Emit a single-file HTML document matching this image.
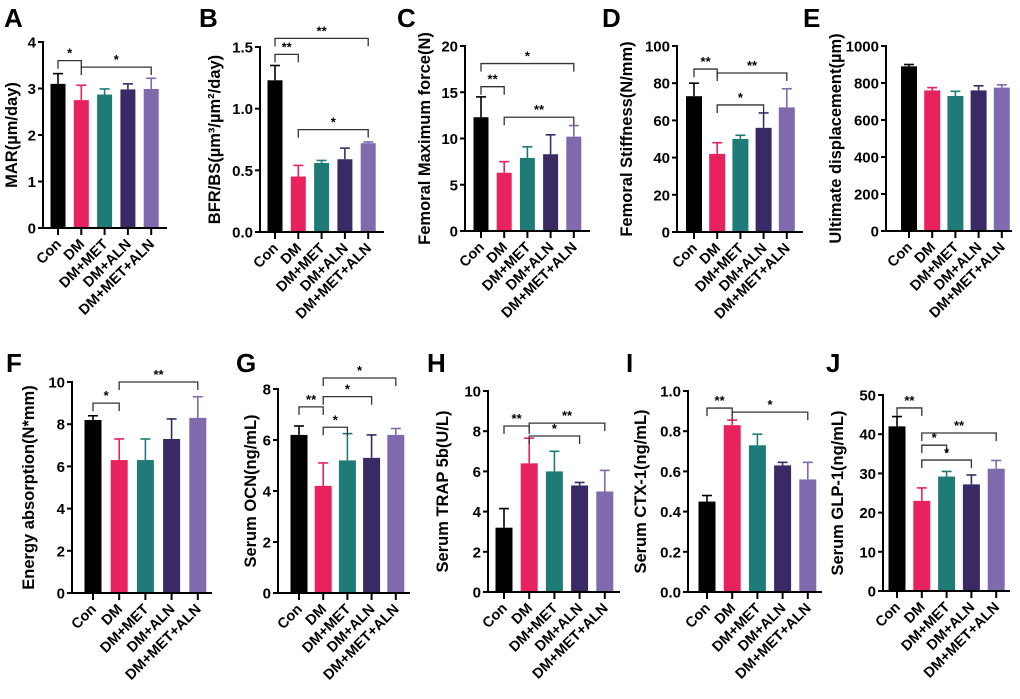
<!DOCTYPE html>
<html><head><meta charset="utf-8"><style>
html,body{margin:0;padding:0;background:#fff;}
svg{display:block;font-family:"Liberation Sans",Arial,sans-serif;font-weight:bold;}
</style></head><body>
<svg id="fig" width="1020" height="699" viewBox="0 0 1020 699" xmlns="http://www.w3.org/2000/svg"></svg>
<script>
const categories = ["Con","DM","DM+MET","DM+ALN","DM+MET+ALN"];
const colors = ["#000000","#e8215f","#1e7b78","#392a66","#806aae"];
const marVals = [3.1,2.75,2.87,2.98,2.99];
const marErr = [3.32,3.07,2.99,3.1,3.22];
const bfrVals = [1.23,0.45,0.56,0.59,0.72];
const bfrErr = [1.35,0.54,0.58,0.68,0.73];
const forceVals = [12.3,6.3,7.9,8.3,10.2];
const forceErr = [14.5,7.5,9.1,10.4,11.4];
const stiffVals = [73,42,50,56,67];
const stiffErr = [80,48,52,64,77];
const dispVals = [890,760,730,760,775];
const dispErr = [900,775,755,785,790];
const energyVals = [8.2,6.3,6.3,7.3,8.3];
const energyErr = [8.4,7.3,7.3,8.25,9.3];
const ocnVals = [6.2,4.2,5.2,5.3,6.2];
const ocnErr = [6.55,5.1,6.25,6.2,6.45];
const trapVals = [3.2,6.4,6.0,5.3,5.0];
const trapErr = [4.15,7.65,7.0,5.45,6.05];
const ctxVals = [0.45,0.83,0.73,0.63,0.56];
const ctxErr = [0.48,0.855,0.785,0.645,0.645];
const glpVals = [42,23,29.2,27.2,31.2];
const glpErr = [44.5,26.3,30.5,29.6,33.3];
const marTicks = ["0","1","2","3","4"];
const bfrTicks = ["0.0","0.5","1.0","1.5"];
const forceTicks = ["0","5","10","15","20"];
const stiffTicks = ["0","20","40","60","80","100"];
const dispTicks = ["0","200","400","600","800","1000"];
const energyTicks = ["0","2","4","6","8","10"];
const ocnTicks = ["0","2","4","6","8"];
const trapTicks = ["0","2","4","6","8","10"];
const ctxTicks = ["0.0","0.2","0.4","0.6","0.8","1.0"];
const glpTicks = ["0","10","20","30","40","50"];
const marSig = [[0,1,3.6,"*"],[1,4,3.46,"*"]];
const bfrSig = [[0,4,1.57,"**"],[0,1,1.44,"**"],[1,4,0.83,"*"]];
const forceSig = [[0,4,18.1,"*"],[0,1,15.6,"**"],[1,4,12.3,"**"]];
const stiffSig = [[0,1,87.6,"**"],[1,4,85.5,"**"],[1,3,68.3,"*"]];
const dispSig = [];
const energySig = [[0,1,9.0,"*"],[1,4,10.0,"**"]];
const ocnSig = [[0,1,7.3,"**"],[1,4,8.43,"*"],[1,3,7.7,"*"],[1,2,6.5,"*"]];
const trapSig = [[0,1,8.26,"**"],[1,4,8.4,"**"],[1,3,7.76,"*"]];
const ctxSig = [[0,1,0.915,"**"],[1,4,0.895,"*"]];
const glpSig = [[0,1,46.7,"**"],[1,4,40.3,"**"],[1,2,37.2,"*"],[1,3,33.4,"*"]];

const panels = [
 {id:"a",letter:"A",lx:4,ly:27,ax:43,x0:58,dx:23.3,bw:15,yTop:42,yBot:228,max:4,ticks:marTicks,vals:marVals,err:marErr,sig:marSig,title:"MAR(µm/day)",tx:12,xEnd:167},
 {id:"b",letter:"B",lx:199,ly:27,ax:260,x0:275,dx:23.3,bw:15,yTop:47,yBot:232,max:1.5,ticks:bfrTicks,vals:bfrVals,err:bfrErr,sig:bfrSig,title:"BFR/BS(µm³/µm²/day)",tx:215,xEnd:384},
 {id:"c",letter:"C",lx:397,ly:27,ax:465,x0:481,dx:23.2,bw:15,yTop:46,yBot:231,max:20,ticks:forceTicks,vals:forceVals,err:forceErr,sig:forceSig,title:"Femoral Maximum force(N)",tx:425,xEnd:590},
 {id:"d",letter:"D",lx:602,ly:27,ax:677,x0:694,dx:23.2,bw:16,yTop:46,yBot:232,max:100,ticks:stiffTicks,vals:stiffVals,err:stiffErr,sig:stiffSig,title:"Femoral Stiffness(N/mm)",tx:627,xEnd:803},
 {id:"e",letter:"E",lx:803,ly:27,ax:886,x0:909,dx:23.2,bw:16,yTop:46,yBot:231,max:1000,ticks:dispTicks,vals:dispVals,err:dispErr,sig:dispSig,title:"Ultimate displacement(µm)",tx:836,xEnd:1012},
 {id:"f",letter:"F",lx:6,ly:372,ax:72,x0:93,dx:26.2,bw:17,yTop:382,yBot:593,max:10,ticks:energyTicks,vals:energyVals,err:energyErr,sig:energySig,title:"Energy absorption(N*mm)",tx:29,xEnd:212},
 {id:"g",letter:"G",lx:236,ly:372,ax:278,x0:299,dx:24.2,bw:17,yTop:389,yBot:593,max:8,ticks:ocnTicks,vals:ocnVals,err:ocnErr,sig:ocnSig,title:"Serum OCN(ng/mL)",tx:251,xEnd:410},
 {id:"h",letter:"H",lx:427,ly:372,ax:488,x0:504,dx:25.2,bw:17,yTop:391,yBot:592,max:10,ticks:trapTicks,vals:trapVals,err:trapErr,sig:trapSig,title:"Serum TRAP 5b(U/L)",tx:443,xEnd:620},
 {id:"i",letter:"I",lx:626,ly:372,ax:688,x0:707,dx:25.2,bw:17,yTop:391,yBot:592,max:1.0,ticks:ctxTicks,vals:ctxVals,err:ctxErr,sig:ctxSig,title:"Serum CTX-1(ng/mL)",tx:641,xEnd:822},
 {id:"j",letter:"J",lx:826,ly:372,ax:883,x0:897,dx:24.8,bw:17,yTop:395,yBot:591,max:50,ticks:glpTicks,vals:glpVals,err:glpErr,sig:glpSig,title:"Serum GLP-1(ng/mL)",tx:838,xEnd:1010}
];

const NS="http://www.w3.org/2000/svg";
const svg=document.getElementById("fig");
function mk(tag,attrs,parent){const e=document.createElementNS(NS,tag);for(const k in attrs)e.setAttribute(k,attrs[k]);(parent||svg).appendChild(e);return e;}

panels.forEach(p=>{
  const g=mk("g",{});
  
  
  const yS=v=>p.yBot-(v/p.max)*(p.yBot-p.yTop);
  const xS=i=>p.x0+i*p.dx;
  const L=mk("text",{x:p.lx,y:p.ly,"font-size":26,fill:"#000"},g);L.textContent=p.letter;
  
  
  p.vals.forEach((v,i)=>{
    const c=colors[i],x=xS(i);
    const eg=mk("line",{x1:x,x2:x,y1:yS(v),y2:yS(p.err[i]),stroke:c,"stroke-width":1.6},g);
    
    
    const cap=mk("line",{x1:x-5,x2:x+5,y1:yS(p.err[i]),y2:yS(p.err[i]),stroke:c,"stroke-width":1.6},g);
    
    
    const r=mk("rect",{x:x-p.bw/2,y:yS(v),width:p.bw,height:p.yBot-yS(v),fill:c},g);
    
    
  });
  const ya=mk("line",{x1:p.ax,x2:p.ax,y1:p.yTop-1,y2:p.yBot+1,stroke:"#000","stroke-width":2},g);
  
  
  const xa=mk("line",{x1:p.ax-1,x2:p.xEnd,y1:p.yBot,y2:p.yBot,stroke:"#000","stroke-width":2},g);
  
  
  p.ticks.forEach((t,k)=>{
    const v=k*p.max/(p.ticks.length-1),y=yS(v);
    mk("line",{x1:p.ax-5,x2:p.ax,y1:y,y2:y,stroke:"#000","stroke-width":2},g);
    const tt=mk("text",{x:p.ax-7,y:y+5.5,"font-size":15,"text-anchor":"end"},g);tt.textContent=t;
    
    
  });
  categories.forEach((c,i)=>{
    const x=xS(i);
    mk("line",{x1:x,x2:x,y1:p.yBot,y2:p.yBot+7,stroke:"#000","stroke-width":2},g);
    const t=mk("text",{x:x+4,y:p.yBot+17,"font-size":14.5,"text-anchor":"end",transform:`rotate(-45 ${x+4} ${p.yBot+17})`},g);
    t.textContent=c;
    
    
  });
  const cy=(p.yTop+p.yBot)/2;
  const T=mk("text",{x:p.tx,y:cy,"font-size":16.5,"text-anchor":"middle","dominant-baseline":"central",transform:`rotate(-90 ${p.tx} ${cy})`},g);
  T.textContent=p.title;
  
  
  p.sig.forEach(s=>{
    const x1=xS(s[0]),x2=xS(s[1]),y=yS(s[2]);
    const br=mk("path",{d:`M${x1},${y+8}V${y}H${x2}V${y+8}`,fill:"none",stroke:"#333","stroke-width":1.3},g);
    
    
    const st=mk("text",{x:(x1+x2)/2,y:y-3,"font-size":13,"text-anchor":"middle"},g);
    st.textContent=s[3];
    
    
  });
});
</script>
</body></html>
